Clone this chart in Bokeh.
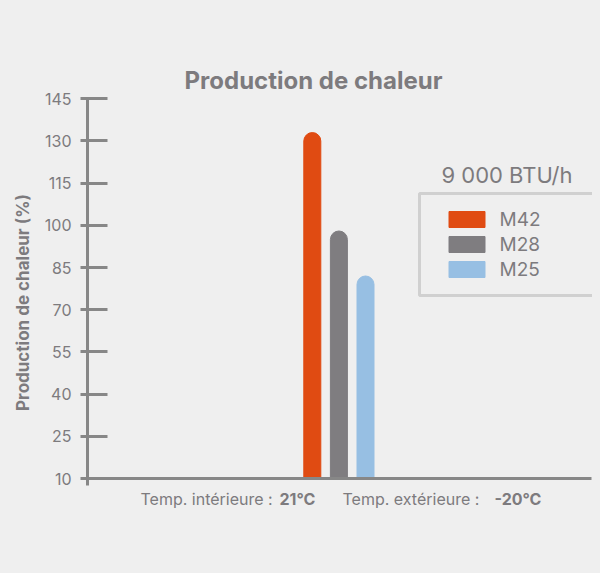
from math import pi
from bokeh.plotting import figure
from bokeh.models import (ColumnDataSource, FixedTicker, Label, BoxAnnotation,
                          Legend, LegendItem, Range1d)
from bokeh.embed import file_html
from bokeh.resources import INLINE

# ---- data ----
models = ["M42", "M28", "M25"]
production = [133, 98, 82]
colors = ["#e04b12", "#7f7d80", "#97bfe3"]
y_ticks = [10, 25, 40, 55, 70, 85, 100, 115, 130, 145]
title_text = "Production de chaleur"
y_label = "Production de chaleur (%)"
legend_title = "9 000 BTU/h"
x_parts = ["Temp. intérieure :", "21°C", "Temp. extérieure :", "-20°C"]
x_styles = ["normal", "bold", "normal", "bold"]

# ---- layout (canvas pixels) ----
W, H = 584, 557
AX_LEFT, AX_RIGHT, AX_TOP, AX_BOTTOM = 79, 583, 90.3, 470
BAR_X0, BAR_STEP, BAR_W = 303.8, 26.6, 17

BG = "#efefef"
TXT = "#7d7b7e"
AX = "#878787"
FONT = "Inter"

xpos = list(range(len(models)))
ymin, ymax = y_ticks[0], y_ticks[-1]
ppu = (AX_BOTTOM - AX_TOP) / (ymax - ymin)
y_start = ymin - (H - AX_BOTTOM) / ppu
y_end = ymax + AX_TOP / ppu
x_start = -BAR_X0 / BAR_STEP
x_end = (W - BAR_X0) / BAR_STEP
x_axis_left = (AX_LEFT - BAR_X0) / BAR_STEP
x_axis_right = (AX_RIGHT - BAR_X0) / BAR_STEP

src = ColumnDataSource(dict(x=xpos, model=models, value=production, color=colors,
                            base=[ymin] * len(models)))

p = figure(width=W, height=H, output_backend="svg", toolbar_location=None,
           x_range=Range1d(x_start, x_end), y_range=Range1d(y_start, y_end),
           min_border=0, min_border_left=0, min_border_right=0,
           min_border_top=0, min_border_bottom=0,
           background_fill_color=BG, border_fill_color=BG, outline_line_color=None)
p.grid.visible = False
p.title.visible = False

r = p.vbar(x="x", top="value", bottom="base", width=BAR_W / BAR_STEP, color="color",
           source=src, border_radius=(9, 9, 0, 0))

# y axis
ya = p.yaxis[0]
ya.fixed_location = x_axis_left
ya.bounds = (ymin - 2.5, ymax)
ya.ticker = FixedTicker(ticks=y_ticks)
ya.axis_line_color = AX
ya.axis_line_width = 3
ya.major_tick_line_color = AX
ya.major_tick_line_width = 3
ya.major_tick_out = 7
ya.major_tick_in = 20
ya.minor_tick_line_color = None
ya.major_label_text_font = FONT
ya.major_label_text_font_size = "16px"
ya.major_label_text_color = TXT
ya.major_label_standoff = 9

# x axis: line only
xa = p.xaxis[0]
xa.fixed_location = ymin
xa.bounds = (x_axis_left, x_axis_right)
xa.ticker = FixedTicker(ticks=[])
xa.axis_line_color = AX
xa.axis_line_width = 3
xa.major_tick_line_color = None
xa.minor_tick_line_color = None
xa.major_label_text_font_size = "0px"

# title
p.add_layout(Label(x=305, y=H - 72, x_units="screen", y_units="screen", text=title_text,
                   text_font=FONT, text_font_style="bold", text_font_size="24px",
                   text_color=TXT, text_align="center", text_baseline="middle"))
# y label
p.add_layout(Label(x=14.5, y=H - 294, x_units="screen", y_units="screen", text=y_label,
                   angle=pi / 2, text_font=FONT, text_font_style="bold",
                   text_font_size="17px", text_color=TXT, text_align="center",
                   text_baseline="middle"))
# x label parts
x_lefts = [132, 271, 334, 486]
for t, st, xx in zip(x_parts, x_styles, x_lefts):
    p.add_layout(Label(x=xx, y=H - 490.5, x_units="screen", y_units="screen", text=t,
                       text_font=FONT, text_font_style=st, text_font_size="16px",
                       text_color=TXT, text_align="left", text_baseline="middle"))

# legend box & title
p.add_layout(BoxAnnotation(left=411, right=W + 40, top=H - 185, bottom=H - 287,
                           top_units="screen", bottom_units="screen",
                           left_units="screen", right_units="screen",
                           fill_alpha=0, line_color=AX, line_width=3))
p.add_layout(Label(x=498.5, y=H - 166.5, x_units="screen", y_units="screen",
                   text=legend_title, text_font=FONT, text_font_size="22px",
                   text_color=TXT, text_align="center", text_baseline="middle"))

legend = Legend(items=[LegendItem(label=m, renderers=[r], index=i)
                       for i, m in enumerate(models)],
                location=(435.5, H - 273.5))
legend.border_line_color = None
legend.background_fill_alpha = 0
legend.padding = 0
legend.margin = 0
legend.spacing = 0
legend.glyph_width = 45
legend.glyph_height = 20
legend.label_height = 25
legend.label_standoff = 11
legend.label_text_font = FONT
legend.label_text_font_size = "19px"
legend.label_text_color = TXT
p.add_layout(legend)

html = file_html(p, INLINE)
html = html.replace("<body>", '<body style="margin:8px;background-color:#efefef;">')
open("out.html", "w").write(html)
